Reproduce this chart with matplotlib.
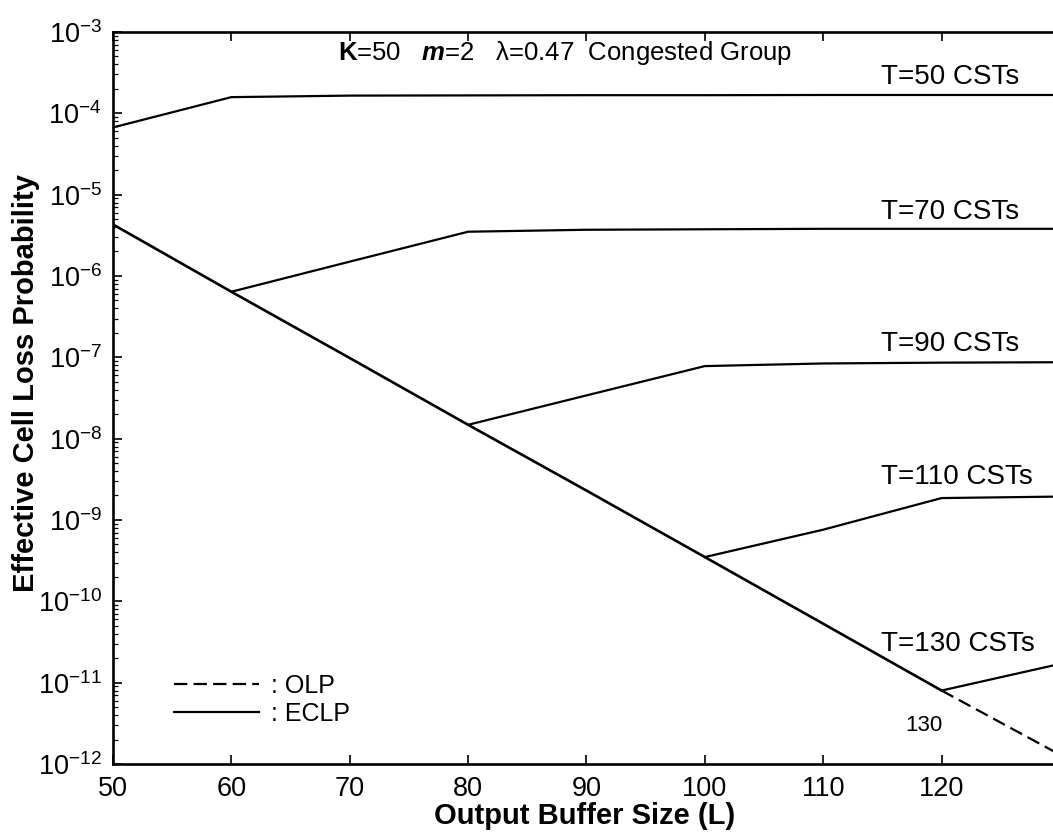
import numpy as np
import matplotlib.pyplot as plt

plt.rcParams['font.family'] = ['Liberation Sans', 'DejaVu Sans']
plt.rcParams['mathtext.fontset'] = 'custom'
plt.rcParams['mathtext.rm'] = 'Liberation Sans'
plt.rcParams['mathtext.it'] = 'Liberation Sans:italic'
plt.rcParams['mathtext.bf'] = 'Liberation Sans:bold'
plt.rcParams['mathtext.bfit'] = 'Liberation Sans:bold:italic'
plt.rcParams['axes.unicode_minus'] = False

# Output buffer size (L)
L_all = [50, 60, 70, 80, 90, 100, 110, 120, 130]

# OLP curve (dashed beyond 120) and ECLP base line
olp = [4.3e-6, 6.4e-7, 9.8e-8, 1.48e-8, 2.3e-9, 3.5e-10, 5.3e-11, 8.0e-12, 1.3e-12]

# ECLP branches for each T
L_t50 = [50, 60, 70, 80, 90, 100, 110, 120, 130]
t50 = [6.7e-5, 1.58e-4, 1.65e-4, 1.66e-4, 1.67e-4, 1.67e-4, 1.68e-4, 1.68e-4, 1.68e-4]
L_t70 = [60, 70, 80, 90, 100, 110, 120, 130]
t70 = [6.4e-7, 1.5e-6, 3.5e-6, 3.7e-6, 3.75e-6, 3.8e-6, 3.8e-6, 3.8e-6]
L_t90 = [80, 90, 100, 110, 120, 130]
t90 = [1.48e-8, 3.4e-8, 7.8e-8, 8.4e-8, 8.6e-8, 8.7e-8]
L_t110 = [100, 110, 120, 130]
t110 = [3.5e-10, 7.6e-10, 1.86e-9, 1.94e-9]
L_t130 = [120, 130]
t130 = [8.0e-12, 1.7e-11]

labels = ['T=50 CSTs', 'T=70 CSTs', 'T=90 CSTs', 'T=110 CSTs', 'T=130 CSTs']
label_y = [2.8e-4, 6.2e-6, 1.45e-7, 3.4e-9, 2.95e-11]

fig = plt.figure(figsize=(10.53, 8.39), dpi=100)
ax = fig.add_axes([0.1073, 0.0894, 0.8993, 0.8725])

lw = 1.6
ax.plot(L_all[7:], olp[7:], 'k--', lw=lw, dashes=(6, 2.8))
ax.plot(L_all[:8], olp[:8], 'k-', lw=1.9)
ax.plot(L_t50, t50, 'k-', lw=lw)
ax.plot(L_t70, t70, 'k-', lw=lw)
ax.plot(L_t90, t90, 'k-', lw=lw)
ax.plot(L_t110, t110, 'k-', lw=lw)
ax.plot(L_t130, t130, 'k-', lw=lw)

for lab, yv in zip(labels, label_y):
    ax.text(114.9, yv, lab, ha='left', va='center', fontsize=20)

ax.text(118.5, 3.0e-12, '130', ha='center', va='center', fontsize=16)

ax.text(0.477, 0.971,
        r'$\mathbf{K}$=50   $\mathbfit{m}$=2   λ=0.47  Congested Group',
        transform=ax.transAxes, ha='center', va='center', fontsize=18.5)

# legend
h1, = ax.plot([], [], 'k--', lw=lw, dashes=(6, 2.8))
h2, = ax.plot([], [], 'k-', lw=lw)
ax.legend([h1, h2], [': OLP', ': ECLP'], loc='lower left', bbox_to_anchor=(0.064, 0.052),
          frameon=False, fontsize=18, handlelength=3.4, handletextpad=0.5,
          labelspacing=0.15, borderpad=0, borderaxespad=0)

ax.set_yscale('log')
ax.set_xlim(50, 130)
ax.set_ylim(1e-12, 1e-3)
ax.set_xticks([50, 60, 70, 80, 90, 100, 110, 120])
ax.set_yticks([10.0 ** e for e in range(-12, -2)])
ax.tick_params(which='both', direction='in', top=True, right=False, labelsize=19.5)
ax.tick_params(axis='x', pad=9)
ax.tick_params(axis='y', pad=8)
ax.tick_params(which='major', length=6.5, width=1.2)
ax.tick_params(which='minor', length=3.5, width=0.9)
ax.tick_params(axis='x', which='minor', top=False, bottom=False)
for s in ax.spines.values():
    s.set_linewidth(1.9)
ax.spines['right'].set_visible(False)

ax.set_xlabel('Output Buffer Size (L)', fontsize=21, fontweight='bold')
ax.set_ylabel('Effective Cell Loss Probability', fontsize=21, fontweight='bold')
ax.xaxis.set_label_coords(0.498, -0.052)
ax.yaxis.set_label_coords(-0.077, 0.52)

fig.savefig('out.png', dpi=100)
